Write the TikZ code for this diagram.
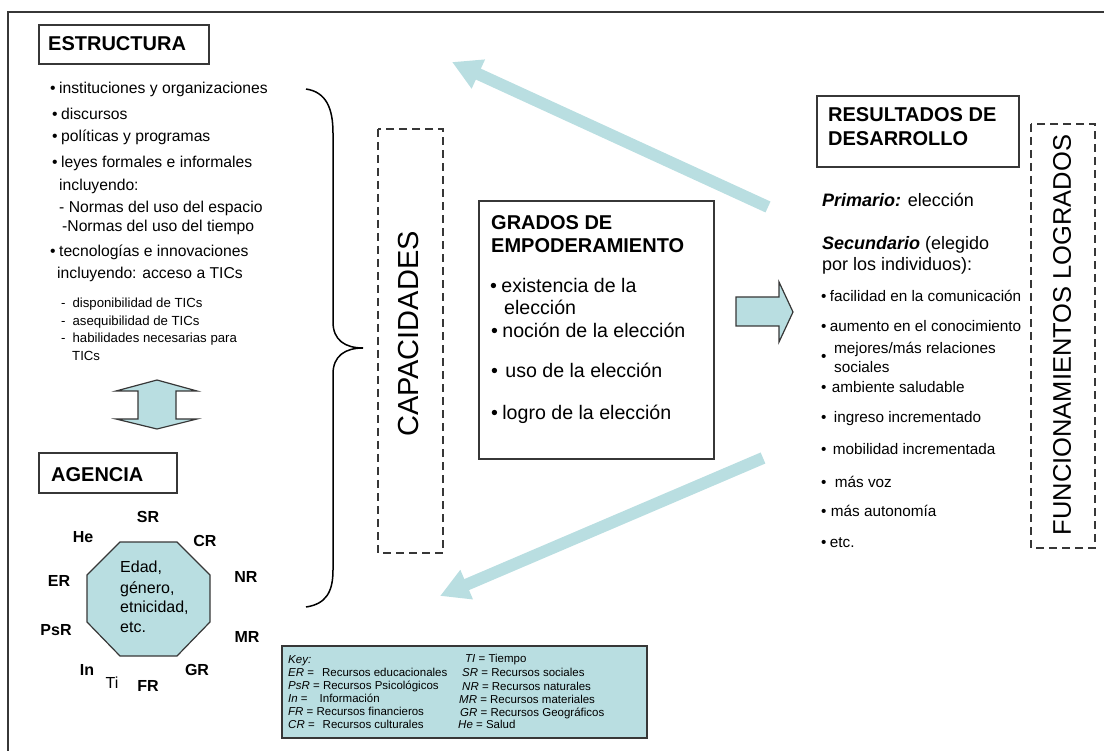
\documentclass[tikz,border=0pt]{standalone}
\usepackage{fontspec}
\setmainfont{Liberation Sans}
\usepackage{tikz}
\usetikzlibrary{arrows.meta}

\definecolor{paleblue}{RGB}{185,222,225}
\definecolor{edgegray}{RGB}{55,55,55}
\newcommand{\bulletmark}{\textbullet\hspace{0.22em}}
\newcommand{\fsz}[1]{\fontsize{#1}{1.2\dimexpr#1pt\relax}\selectfont}

\begin{document}
\begin{tikzpicture}[x=1pt,y=-1pt,
    txt/.style={anchor=base west,inner sep=0pt},
    title/.style={txt,font=\fsz{20}\bfseries},
    leftbody/.style={txt,font=\fsz{15.7}},
    leftsmall/.style={txt,font=\fsz{13.2}},
    midbody/.style={txt,font=\fsz{19.6}},
    rightbody/.style={txt,font=\fsz{15.3}},
    keytext/.style={txt,font=\fsz{11.5}},
    res/.style={inner sep=0pt,font=\fsz{16}\bfseries},
    solidbox/.style={draw=edgegray,line width=1.3pt},
    dashbox/.style={draw=edgegray,line width=1.1pt,dash pattern=on 8pt off 5pt},
    blockarrow/.style={fill=paleblue,draw=edgegray,line width=1.2pt,line join=miter},
    backarrow/.style={draw=paleblue,line width=12pt,-{Triangle[length=29pt,width=30pt]}}]

    % Page and outer frame
    \useasboundingbox (0,0) rectangle (1104,751);
    \draw[line width=1.5pt,edgegray] (8,751) -- (8,12) -- (1104,12);

    % ESTRUCTURA
    \draw[solidbox] (39,25) rectangle (209,64);
    \node[title] (estructura) at (48,51) {ESTRUCTURA};
    \node[leftbody] (inst) at (50,94) {\bulletmark instituciones y organizaciones};
    \node[leftbody] (disc) at (52,120) {\bulletmark discursos};
    \node[leftbody] (poli) at (52,142) {\bulletmark políticas y programas};
    \node[leftbody] (leyes) at (52,168) {\bulletmark leyes formales e informales};
    \node[leftbody] (inclA) at (59,191) {incluyendo:};
    \node[leftbody] (normA) at (59,213) {- Normas del uso del espacio};
    \node[leftbody] (normB) at (62,232) {-Normas del uso del tiempo};
    \node[leftbody] (tecno) at (50,257) {\bulletmark tecnologías e innovaciones};
    \node[leftbody] (inclB) at (57,279) {incluyendo: acceso a TICs};
    \node[leftsmall] (dispo) at (61,308) {-\hspace{7pt}disponibilidad de TICs};
    \node[leftsmall] (asequi) at (61,326) {-\hspace{7pt}asequibilidad de TICs};
    \node[leftsmall] (habil) at (61,343) {-\hspace{7pt}habilidades necesarias para};
    \node[leftsmall] (tics) at (72,361) {TICs};

    % Double arrow between structure and agency
    \filldraw[blockarrow] (157,380) -- (197,391) -- (176,391) -- (176,419) -- (197,419)
        -- (157,429) -- (116,419) -- (138,419) -- (138,391) -- (116,391) -- cycle;

    % AGENCIA
    \draw[solidbox] (39,453) rectangle (177,493);
    \node[title] (agencia) at (51,482) {AGENCIA};
    \filldraw[blockarrow] (120,542) -- (177,542) -- (210,575) -- (210,622)
        -- (177,656) -- (120,656) -- (87,622) -- (87,575) -- cycle;
    \node[txt,font=\fsz{16}] (edad) at (120,572) {Edad,};
    \node[txt,font=\fsz{16}] (genero) at (120,593) {género,};
    \node[txt,font=\fsz{16}] (etnia) at (120,612) {etnicidad,};
    \node[txt,font=\fsz{16}] (etcA) at (120,632) {etc.};

    % Resources round the octagon
    \node[res] (sr) at (148,517) {SR};
    \node[res] (he) at (83,537) {He};
    \node[res] (cr) at (205,541) {CR};
    \node[res] (er) at (59,581) {ER};
    \node[res] (nr) at (246,577) {NR};
    \node[res] (psr) at (56,630) {PsR};
    \node[res] (mr) at (247,637) {MR};
    \node[res] (in) at (87,670) {In};
    \node[res,font=\fsz{16}] (ti) at (112,683) {Ti};
    \node[res] (fr) at (148,686) {FR};
    \node[res] (gr) at (197,670) {GR};

    % Brace
    \draw[line width=1.5pt] (306,89) .. controls (326,92) and (333,108) .. (333,133)
        -- (333,322) .. controls (333,340) and (345,348) .. (363,348)
        .. controls (345,348) and (333,356) .. (333,374)
        -- (333,570) .. controls (333,592) and (326,604) .. (306,607);

    % CAPACIDADES
    \draw[dashbox] (378,129) rectangle (443,553);
    \node[inner sep=0pt,rotate=90,font=\fsz{29}] (capacidades) at (409,334) {CAPACIDADES};

    % GRADOS DE EMPODERAMIENTO
    \draw[solidbox] (479,201) rectangle (714,459);
    \node[title] (gradosA) at (491,230) {GRADOS DE};
    \node[title] (gradosB) at (491,253) {EMPODERAMIENTO};
    \node[midbody] (exist) at (490,293) {\bulletmark existencia de la};
    \node[midbody] (elec) at (504,315) {elección};
    \node[midbody] (nocion) at (491,338) {\bulletmark noción de la elección};
    \node[midbody] (uso) at (491,378) {\bulletmark\hspace{3pt}uso de la elección};
    \node[midbody] (logro) at (491,420) {\bulletmark logro de la elección};

    % Arrow towards results
    \filldraw[blockarrow] (736,297) -- (779,297) -- (779,282) -- (793,312)
        -- (779,342) -- (779,326) -- (736,326) -- cycle;

    % RESULTADOS DE DESARROLLO
    \draw[solidbox] (817,96) rectangle (1019,167);
    \node[title] (resA) at (828,122) {RESULTADOS DE};
    \node[title] (resB) at (828,146) {DESARROLLO};
    \node[txt,font=\fsz{18}] (prim) at (822,207) {{\bfseries\itshape Primario:} elección};
    \node[txt,font=\fsz{18}] (secA) at (822,250) {{\bfseries\itshape Secundario} (elegido};
    \node[txt,font=\fsz{18}] (secB) at (822,271) {por los individuos):};
    \node[rightbody] (facil) at (821,302) {\bulletmark facilidad en la comunicación};
    \node[rightbody] (aumen) at (821,332) {\bulletmark aumento en el conocimiento};
    \node[rightbody] (mejorA) at (834,354) {mejores/más relaciones};
    \node[rightbody] (mejorB) at (834,373) {sociales};
    \node[rightbody] (mejorDot) at (821,362) {\textbullet};
    \node[rightbody] (ambie) at (821,393) {\bulletmark\hspace{2pt}ambiente saludable};
    \node[rightbody] (ingre) at (821,423) {\bulletmark\hspace{4pt}ingreso incrementado};
    \node[rightbody] (mobil) at (821,454) {\bulletmark\hspace{3pt}mobilidad incrementada};
    \node[rightbody] (voz) at (821,487) {\bulletmark\hspace{5pt}más voz};
    \node[rightbody] (auto) at (821,516) {\bulletmark\hspace{1pt}más autonomía};
    \node[rightbody] (etcB) at (821,547) {\bulletmark etc.};

    % FUNCIONAMIENTOS LOGRADOS
    \draw[dashbox] (1031,124) rectangle (1095,548);
    \node[inner sep=0pt,rotate=90,font=\fsz{25.5}] (funcion) at (1062,335) {FUNCIONAMIENTOS LOGRADOS};

    % Feedback arrows
    \coordinate (upTail) at (768,207);
    \coordinate (upTip) at (452,62);
    \coordinate (downTail) at (763,458);
    \coordinate (downTip) at (440,596);
    \draw[backarrow] (upTail) -- (upTip);
    \draw[backarrow] (downTail) -- (downTip);

    % Key
    \filldraw[fill=paleblue,draw=edgegray,line width=1.6pt] (282,646) rectangle (647,738);
    \node[keytext] (key) at (288,663) {\textit{Key:}};
    \node[keytext] (kER) at (288,676) {\textit{ER} =\hspace{8pt}Recursos educacionales};
    \node[keytext] (kPsR) at (288,689) {\textit{PsR} = Recursos Psicológicos};
    \node[keytext] (kIn) at (288,702) {\textit{In} =\hspace{12pt}Información};
    \node[keytext] (kFR) at (288,715) {\textit{FR} = Recursos financieros};
    \node[keytext] (kCR) at (288,728) {\textit{CR} =\hspace{8pt}Recursos culturales};
    \node[keytext] (kTI) at (465,662) {\textit{TI} = Tiempo};
    \node[keytext] (kSR) at (462,676) {\textit{SR} = Recursos sociales};
    \node[keytext] (kNR) at (462,690) {\textit{NR} = Recursos naturales};
    \node[keytext] (kMR) at (459,703) {\textit{MR} = Recursos materiales};
    \node[keytext] (kGR) at (460,716) {\textit{GR} = Recursos Geográficos};
    \node[keytext] (kHe) at (458,728) {\textit{He} = Salud};
\end{tikzpicture}
\end{document}
